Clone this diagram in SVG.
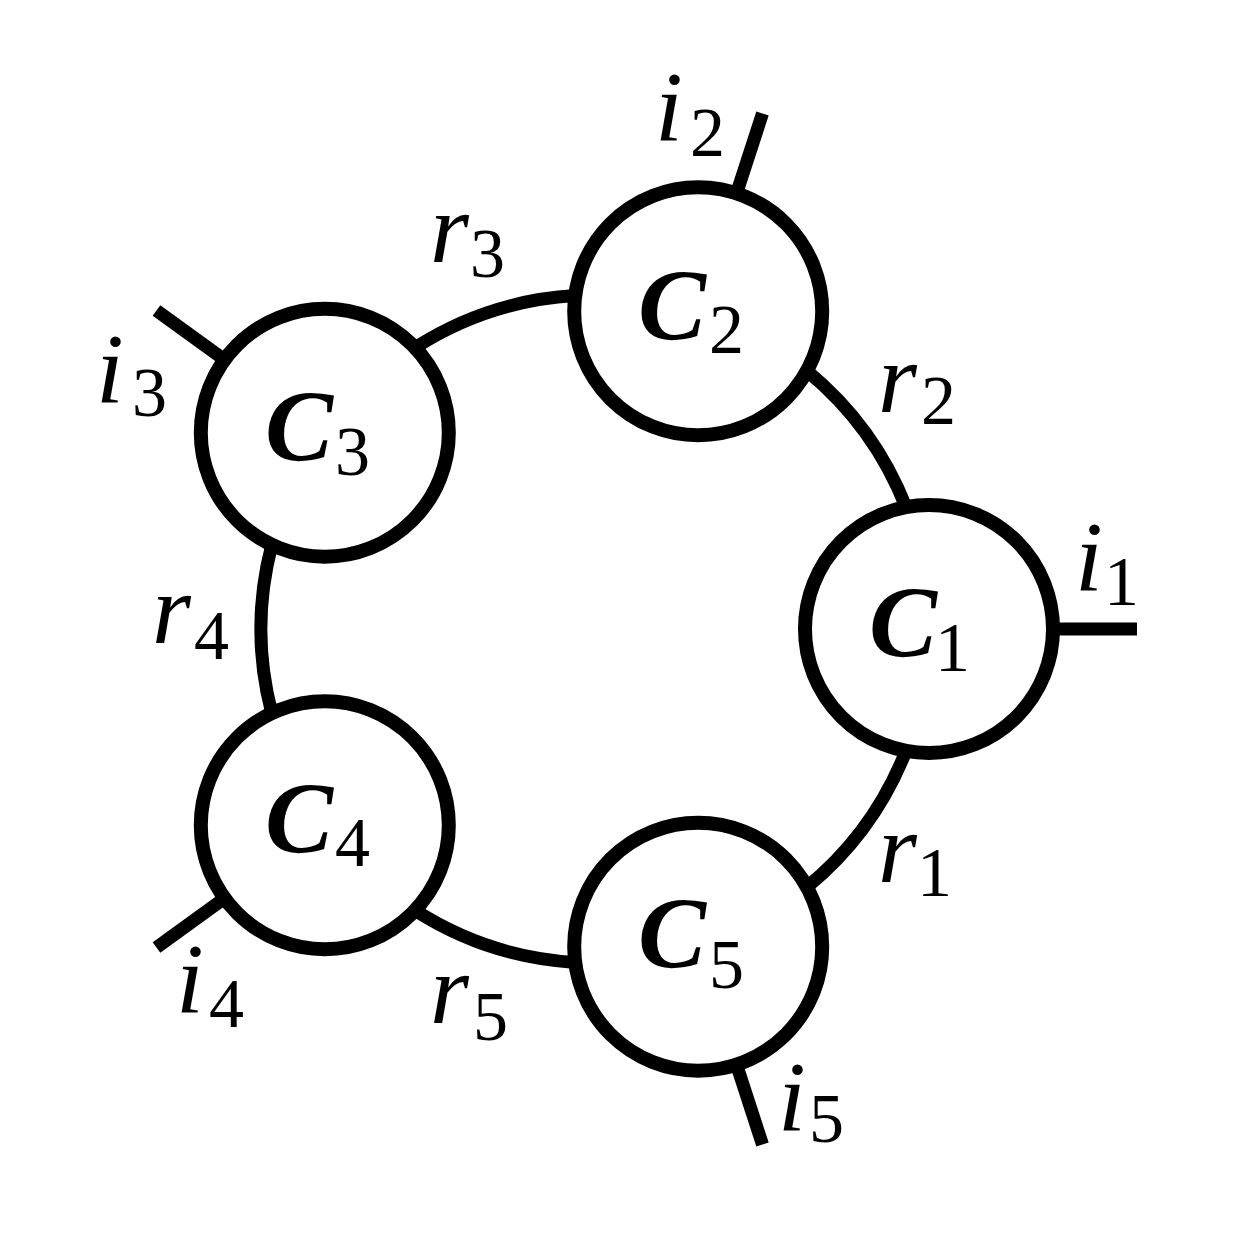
<svg xmlns="http://www.w3.org/2000/svg" width="1238" height="1238" viewBox="0 0 1238 1238">
<style>
.edge{fill:none;stroke:#000;stroke-width:13;stroke-linecap:butt}
.node{fill:#fff;stroke:#000;stroke-width:14}
text{font-family:'Liberation Serif',serif;fill:#000}
.lbl{font-style:italic;font-size:100px}
.sub{font-style:normal;font-weight:normal;font-size:70px}
.cal{font-style:italic;font-weight:bold;font-size:102px}
</style>
<rect width="1238" height="1238" fill="#fff"/>
<g id="connectors">
<path class="edge" d="M906,507.2 A334,334 0 0 0 807.1,371"/>
<path class="edge" d="M575.3,295.6 A334,334 0 0 0 415,347.7"/>
<path class="edge" d="M271.8,544.8 A334,334 0 0 0 271.8,713.2"/>
<path class="edge" d="M415,910.3 A334,334 0 0 0 575.3,962.4"/>
<path class="edge" d="M807.1,887 A334,334 0 0 0 906,750.8"/>
<line class="edge" x1="1053" y1="629" x2="1137" y2="629"/>
<line class="edge" x1="736.5" y1="193.4" x2="762.5" y2="113.5"/>
<line class="edge" x1="224.5" y1="359.8" x2="156.5" y2="310.4"/>
<line class="edge" x1="224.5" y1="898.2" x2="156.5" y2="947.6"/>
<line class="edge" x1="736.5" y1="1064.6" x2="762.5" y2="1144.5"/>
</g>
<g id="edge-labels">
<text class="lbl" x="878" y="882">r<tspan class="sub" x="917" y="896">1</tspan></text>
<text class="lbl" x="878" y="412">r<tspan class="sub" x="921" y="424">2</tspan></text>
<text class="lbl" x="430" y="262">r<tspan class="sub" x="470" y="277">3</tspan></text>
<text class="lbl" x="152" y="643">r<tspan class="sub" x="194" y="659">4</tspan></text>
<text class="lbl" x="430" y="1023">r<tspan class="sub" x="473" y="1040">5</tspan></text>
<text class="lbl" x="1075" y="590">i<tspan class="sub" x="1104" y="605">1</tspan></text>
<text class="lbl" x="655" y="140">i<tspan class="sub" x="690" y="156">2</tspan></text>
<text class="lbl" x="96" y="402">i<tspan class="sub" x="132" y="416">3</tspan></text>
<text class="lbl" x="176" y="1012">i<tspan class="sub" x="209" y="1027">4</tspan></text>
<text class="lbl" x="778" y="1130">i<tspan class="sub" x="809" y="1142">5</tspan></text>
</g>
<g id="c1"><circle class="node" cx="929" cy="629" r="124"/><text class="cal" x="869" y="657">C<tspan class="sub" x="935" y="671">1</tspan></text></g>
<g id="c2"><circle class="node" cx="698.2" cy="311.3" r="124"/><text class="cal" x="638" y="340">C<tspan class="sub" x="709" y="353">2</tspan></text></g>
<g id="c3"><circle class="node" cx="324.8" cy="432.7" r="124"/><text class="cal" x="265" y="461">C<tspan class="sub" x="335" y="475">3</tspan></text></g>
<g id="c4"><circle class="node" cx="324.8" cy="825.3" r="124"/><text class="cal" x="265" y="853">C<tspan class="sub" x="335" y="866">4</tspan></text></g>
<g id="c5"><circle class="node" cx="698.2" cy="946.7" r="124"/><text class="cal" x="638" y="968">C<tspan class="sub" x="709" y="988">5</tspan></text></g>
</svg>
